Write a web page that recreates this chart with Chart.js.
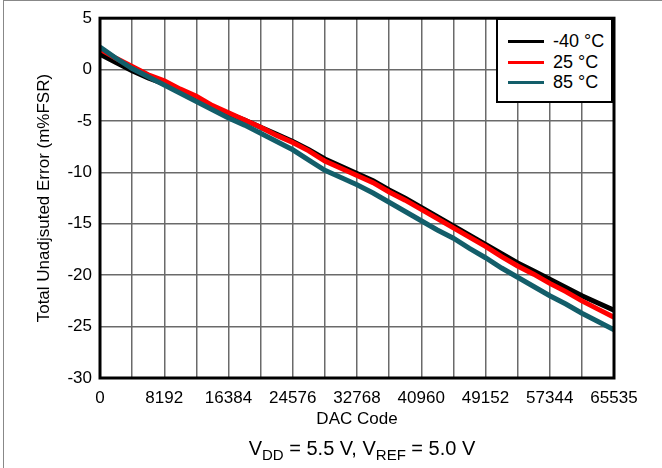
<!DOCTYPE html>
<html>
<head>
<meta charset="utf-8">
<script src="https://cdn.jsdelivr.net/npm/chart.js@4.4.1/dist/chart.umd.min.js"></script>
<style>
  body { margin: 0; background: #fff; font-family: "Liberation Sans", Arial, sans-serif; }
  #wrap { position: relative; width: 662px; height: 468px; overflow: hidden; }
  #frame { position: absolute; left: 3px; top: 0; width: 700px; height: 500px; border-left: 1px solid #888; border-top: 1px solid #888; }
  #legend { position: absolute; left: 496px; top: 18px; width: 113px; height: 81px; border: 2.5px solid #000; background: #fff; }
  #legend div { position: absolute; left: 55px; font-size: 18px; line-height: 20px; }
  #legend span { position: absolute; left: -45px; top: 9px; width: 36px; height: 3px; }
  #caption { position: absolute; left: 100px; width: 524px; top: 436px; text-align: center; font-size: 20px; line-height: 24px; }
  #caption sub { font-size: 15px; vertical-align: -5px; line-height: 0; }
</style>
</head>
<body>
<div id="wrap">
  <div id="frame"></div>
  <canvas id="tue" width="662" height="468"></canvas>
  <div id="legend"></div>
  <div id="caption">V<sub>DD</sub> = 5.5 V, V<sub>REF</sub> = 5.0 V</div>
</div>
<script>
var codes = [0, 2048, 4096, 6144, 8192, 10240, 12288, 14336, 16384, 18432, 20480, 22528, 24576, 26624, 28672, 30720,
  32768, 34816, 36864, 38912, 40960, 43008, 45056, 47104, 49152, 51200, 53248, 55296, 57344, 59392, 61440, 63488, 65535];

var tempLabels = ['-40 °C', '25 °C', '85 °C'];
var tempColors = ['#000000', '#ff0000', '#135e6a'];

var errM40 = [1.5, 0.7, -0.1, -0.8, -1.4, -2.1, -2.8, -3.6, -4.3, -4.9, -5.6, -6.3, -7.0, -7.8, -8.7, -9.4,
  -10.1, -10.8, -11.7, -12.5, -13.4, -14.3, -15.2, -16.1, -17.0, -17.9, -18.8, -19.6, -20.4, -21.2, -22.0, -22.7, -23.4];
var err25 = [2.0, 1.1, 0.3, -0.5, -1.1, -1.9, -2.6, -3.5, -4.2, -4.9, -5.6, -6.4, -7.1, -7.9, -8.9, -9.6,
  -10.3, -11.0, -11.9, -12.7, -13.6, -14.5, -15.4, -16.3, -17.2, -18.2, -19.1, -19.9, -20.8, -21.6, -22.5, -23.3, -24.1];
var err85 = [2.2, 1.1, 0.1, -0.7, -1.5, -2.3, -3.1, -3.9, -4.7, -5.4, -6.2, -7.0, -7.8, -8.8, -9.8, -10.5,
  -11.2, -12.0, -12.9, -13.8, -14.7, -15.6, -16.4, -17.4, -18.3, -19.3, -20.2, -21.1, -22.0, -22.8, -23.7, -24.5, -25.3];

var xTicks = [0, 4096, 8192, 12288, 16384, 20480, 24576, 28672, 32768, 36864, 40960, 45056, 49152, 53248, 57344, 61440, 65535];

function pts(ys) {
  return codes.map(function (c, i) { return { x: c, y: ys[i] }; });
}

var series = [errM40, err25, err85];

// legend as html
var leg = document.getElementById('legend');
tempLabels.forEach(function (t, i) {
  var d = document.createElement('div');
  d.style.top = (11 + i * 20.5) + 'px';
  d.innerHTML = '<span style="background:' + tempColors[i] + '"></span>' + t;
  leg.appendChild(d);
});

var boxPlugin = {
  id: 'box',
  afterDraw: function (chart) {
    var a = chart.chartArea, c = chart.ctx;
    c.save();
    c.strokeStyle = '#000';
    c.lineWidth = 3;
    c.strokeRect(a.left, a.top, a.right - a.left, a.bottom - a.top);
    c.restore();
  }
};

var font = { family: '"Liberation Sans", Arial, sans-serif', size: 17 };

var ctx = document.getElementById('tue').getContext('2d');
var myChart = new Chart(ctx, {
  type: 'line',
  data: {
    datasets: series.map(function (s, i) {
      return {
        label: tempLabels[i],
        data: pts(s),
        borderColor: tempColors[i],
        backgroundColor: tempColors[i],
        borderWidth: 5,
        pointRadius: 0,
        tension: 0,
        order: 3 - i
      };
    })
  },
  options: {
    responsive: false,
    animation: false,
    layout: { padding: { left: 0, top: 18, right: 48, bottom: 34 } },
    plugins: { legend: { display: false }, tooltip: { enabled: false } },
    scales: {
      x: {
        type: 'linear',
        min: 0,
        max: 65535,
        afterBuildTicks: function (scale) {
          scale.ticks = xTicks.map(function (v) { return { value: v }; });
        },
        afterFit: function (scale) { scale.height = 56; },
        ticks: {
          autoSkip: false,
          maxRotation: 0,
          padding: 10,
          color: '#000',
          font: font,
          callback: function (v) { return (v % 8192 === 0 || v === 65535) ? String(v) : ''; }
        },
        grid: { color: '#6a6a6a', lineWidth: 1.5, drawTicks: false },
        border: { display: false },
        title: { display: true, text: 'DAC Code', color: '#000', font: font, padding: { top: 0, bottom: 4 } }
      },
      y: {
        min: -30,
        max: 5,
        afterFit: function (scale) { scale.width = 100; },
        ticks: { stepSize: 5, padding: 8, color: '#000', font: font },
        grid: { color: '#6a6a6a', lineWidth: 1.5, drawTicks: false },
        border: { display: false },
        title: { display: true, text: 'Total Unadjsuted Error (m%FSR)', color: '#000', font: font, padding: { top: 34, bottom: 0 } }
      }
    }
  },
  plugins: [boxPlugin]
});
</script>
</body>
</html>
